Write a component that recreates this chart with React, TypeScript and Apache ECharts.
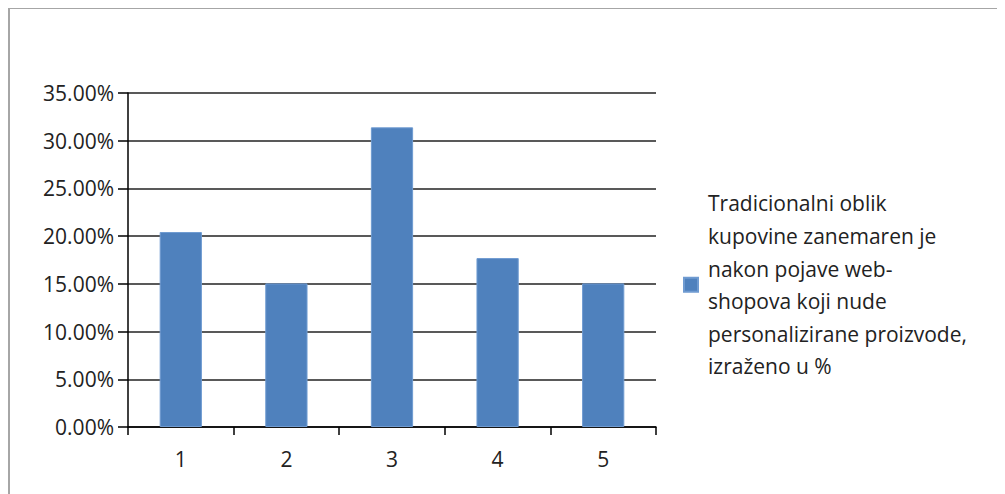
import React, { useEffect, useRef } from "react";
import * as echarts from "echarts";

const categories = ["1", "2", "3", "4", "5"];
const values = [0.2043, 0.1505, 0.314, 0.1770, 0.1505];
const seriesName =
  "Tradicionalni oblik\nkupovine zanemaren je\nnakon pojave web-\nshopova koji nude\npersonalizirane proizvode,\nizraženo u %";

const FONT = "Open Sans";

export default function App() {
  const ref = useRef<HTMLDivElement>(null);
  useEffect(() => {
    if (!ref.current) return;
    const chart = echarts.init(ref.current, undefined, { renderer: "svg" });
    chart.setOption({
      animation: false,
      backgroundColor: "#ffffff",
      textStyle: { fontFamily: FONT },
      graphic: [
        {
          type: "rect",
          shape: { x: 1, y: 0, width: 1200, height: 700 },
          style: { fill: "none", stroke: "#a6a6a6", lineWidth: 2 },
          silent: true,
        },
      ],
      grid: { left: 120, top: 85, width: 528, height: 334, containLabel: false },
      legend: {
        orient: "vertical",
        left: 670,
        top: 174,
        itemWidth: 14,
        itemHeight: 14,
        icon: "rect",
        textStyle: {
          fontFamily: FONT,
          fontSize: 21,
          color: "#222222",
          lineHeight: 32.6,
          padding: [0, 0, 0, 5],
        },
        data: [seriesName],
      },
      xAxis: {
        type: "category",
        data: categories,
        boundaryGap: true,
        axisLine: { show: true, lineStyle: { color: "#000", width: 1.5 } },
        axisTick: { show: true, length: 8, lineStyle: { color: "#000", width: 1.5 } },
        axisLabel: { fontFamily: FONT, fontSize: 21, color: "#222222", margin: 21 },
      },
      yAxis: {
        type: "value",
        min: 0,
        max: 0.35,
        interval: 0.05,
        axisLine: { show: true, lineStyle: { color: "#000", width: 1.5 } },
        axisTick: { show: true, length: 10, lineStyle: { color: "#000", width: 1.5 } },
        splitLine: { show: true, lineStyle: { color: "#222", width: 1.6 } },
        axisLabel: {
          fontFamily: FONT,
          fontSize: 21,
          color: "#222222",
          margin: 14,
          formatter: (v: number) => (v * 100).toFixed(2) + "%",
        },
      },
      series: [
        {
          name: seriesName,
          type: "bar",
          data: values,
          barWidth: "40%",
          itemStyle: { color: "#4F81BD", borderColor: "#6f9bd1", borderWidth: 1 },
        },
      ],
    });
    return () => chart.dispose();
  }, []);
  return <div ref={ref} style={{ width: 997, height: 486 }} />;
}
